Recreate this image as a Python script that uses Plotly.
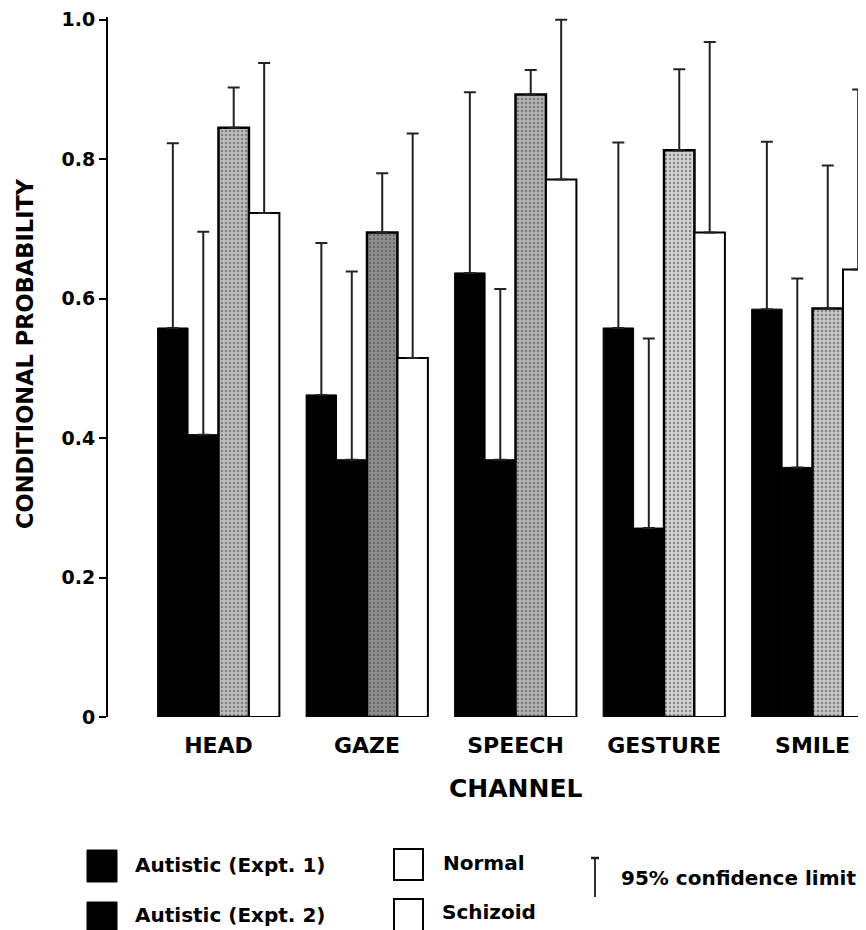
import plotly.graph_objects as go

# ---- data ----
channels = ["HEAD", "GAZE", "SPEECH", "GESTURE", "SMILE"]
autistic1 = [0.558, 0.462, 0.637, 0.558, 0.585]
autistic1_upper = [0.823, 0.680, 0.896, 0.824, 0.825]
autistic2 = [0.405, 0.369, 0.369, 0.271, 0.358]
autistic2_upper = [0.696, 0.639, 0.614, 0.543, 0.629]
normal = [0.845, 0.695, 0.893, 0.813, 0.586]
normal_upper = [0.903, 0.780, 0.928, 0.929, 0.791]
schizoid = [0.723, 0.515, 0.771, 0.695, 0.642]
schizoid_upper = [0.938, 0.837, 1.000, 0.968, 0.900]

y_ticks = [0, 0.2, 0.4, 0.6, 0.8, 1.0]
y_ticktext = ["0", "0.2", "0.4", "0.6", "0.8", "1.0"]

FONT = "DejaVu Sans"

# The page body adds an 8px margin, so the figure is drawn 8px smaller
OFF = 8
W, H = 866 - OFF, 930 - OFF
# plot-area geometry in page pixels
L, R, T, B = 108, 866, 17, 717


def px(x):
    return (x - L) / (R - L)


def py(y):
    return (B - y) / (B - T)


def err(vals, upper):
    return dict(type="data", symmetric=False,
                array=[u - v for v, u in zip(vals, upper)],
                arrayminus=[0] * len(vals),
                color="#222222", thickness=2, width=6)


fig = go.Figure()
fig.add_trace(go.Bar(name="Autistic (Expt. 1)", x=channels, y=autistic1,
                     marker=dict(color="#000000", line=dict(color="#000000", width=1)),
                     error_y=err(autistic1, autistic1_upper)))
fig.add_trace(go.Bar(name="Autistic (Expt. 2)", x=channels, y=autistic2,
                     marker=dict(color="#000000", line=dict(color="#000000", width=1)),
                     error_y=err(autistic2, autistic2_upper)))
fig.add_trace(go.Bar(name="Normal", x=channels, y=normal,
                     marker=dict(color=["#bdbdbd", "#8f8f8f", "#b3b3b3", "#d2d2d2", "#c6c6c6"],
                                 line=dict(color="#000000", width=2.5),
                                 pattern=dict(shape=".", fillmode="overlay",
                                              fgcolor="#555555", size=4, solidity=0.3)),
                     error_y=err(normal, normal_upper)))
fig.add_trace(go.Bar(name="Schizoid", x=channels, y=schizoid,
                     marker=dict(color="#ffffff", line=dict(color="#000000", width=2)),
                     error_y=err(schizoid, schizoid_upper)))

bold = dict(family=FONT, color="#000000", weight="bold")

annotations = [
    dict(text="CONDITIONAL PROBABILITY", textangle=-90, x=px(25), y=py(354),
         xref="paper", yref="paper", showarrow=False, xanchor="center", yanchor="middle",
         font=dict(size=22.5, **bold)),
    dict(text="CHANNEL", x="SPEECH", y=py(789), xref="x", yref="paper",
         showarrow=False, xanchor="center", yanchor="middle", font=dict(size=25, **bold)),
    dict(text="Autistic (Expt. 1)", x=px(133), y=py(865), xref="paper", yref="paper",
         showarrow=False, xanchor="left", yanchor="middle", font=dict(size=20, **bold)),
    dict(text="Autistic (Expt. 2)", x=px(133), y=py(915), xref="paper", yref="paper",
         showarrow=False, xanchor="left", yanchor="middle", font=dict(size=20, **bold)),
    dict(text="Normal", x=px(441), y=py(863), xref="paper", yref="paper",
         showarrow=False, xanchor="left", yanchor="middle", font=dict(size=20, **bold)),
    dict(text="Schizoid", x=px(440), y=py(912), xref="paper", yref="paper",
         showarrow=False, xanchor="left", yanchor="middle", font=dict(size=20, **bold)),
    dict(text="95% confidence limit", x=px(619), y=py(878), xref="paper", yref="paper",
         showarrow=False, xanchor="left", yanchor="middle", font=dict(size=20, **bold)),
]

shapes = [
    # legend swatches
    dict(type="rect", xref="paper", yref="paper", x0=px(87), x1=px(117), y0=py(850), y1=py(882),
         fillcolor="#000000", line=dict(color="#000000", width=1)),
    dict(type="rect", xref="paper", yref="paper", x0=px(87), x1=px(117), y0=py(902), y1=py(934),
         fillcolor="#000000", line=dict(color="#000000", width=1)),
    dict(type="rect", xref="paper", yref="paper", x0=px(394), x1=px(423), y0=py(849), y1=py(880),
         fillcolor="#ffffff", line=dict(color="#000000", width=2)),
    dict(type="rect", xref="paper", yref="paper", x0=px(394), x1=px(423), y0=py(899), y1=py(931),
         fillcolor="#ffffff", line=dict(color="#000000", width=2)),
    # error-bar legend symbol
    dict(type="line", xref="paper", yref="paper", x0=px(595), x1=px(595), y0=py(857), y1=py(897),
         line=dict(color="#333333", width=2)),
    dict(type="line", xref="paper", yref="paper", x0=px(591), x1=px(599), y0=py(858), y1=py(858),
         line=dict(color="#222222", width=2.5)),
]

fig.update_layout(
    width=W, height=H,
    margin=dict(l=L - OFF, r=866 - R, t=T - OFF, b=930 - B, pad=0),
    paper_bgcolor="#ffffff", plot_bgcolor="#ffffff",
    barmode="group", bargap=0.18, bargroupgap=0,
    showlegend=False,
    annotations=annotations, shapes=shapes,
    xaxis=dict(range=[-0.744, 4.360], showline=False, showgrid=False, zeroline=False,
               ticks="", tickfont=dict(size=22, **bold), ticklabelstandoff=13),
    yaxis=dict(range=[0, 1.004], showline=True, linecolor="#000000", linewidth=2,
               showgrid=False, zeroline=False, ticks="outside", ticklen=7, tickwidth=2,
               tickcolor="#000000", tickvals=y_ticks, ticktext=y_ticktext,
               tickfont=dict(size=19, **bold)),
)

fig.write_html("out.html")
